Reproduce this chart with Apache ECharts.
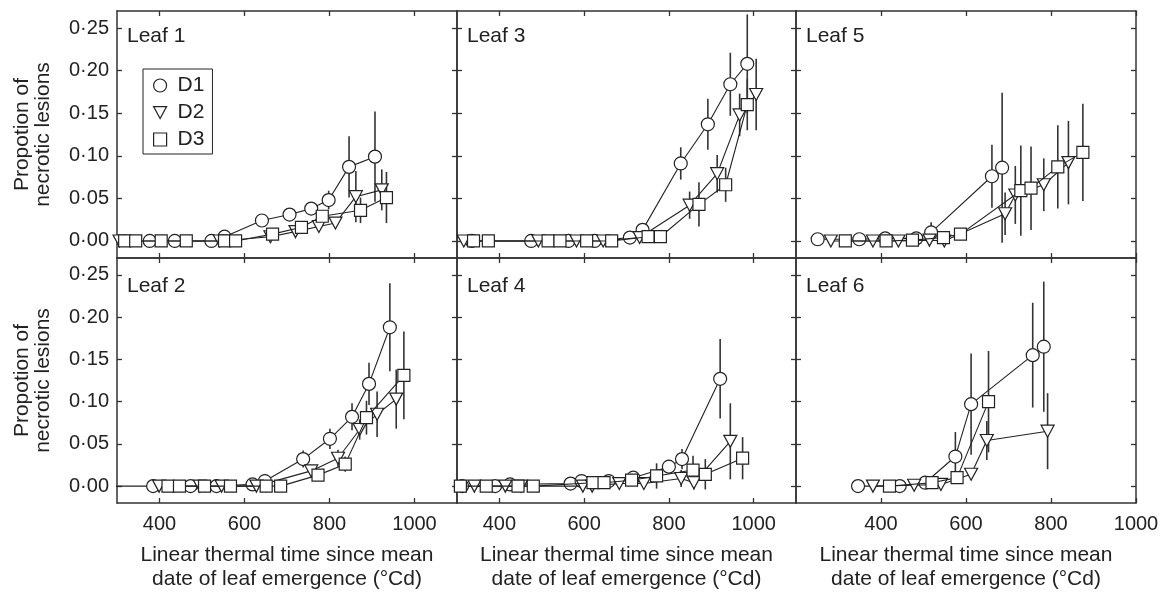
<!DOCTYPE html>
<html>
<head>
<meta charset="utf-8">
<script src="https://cdn.jsdelivr.net/npm/echarts@6/dist/echarts.min.js"></script>
<style>
html,body{margin:0;padding:0;background:#fff;}
#chart{width:1164px;height:592px;}
</style>
</head>
<body>
<div id="chart"></div>
<script>
// ---- Data: [thermal time (°Cd), proportion, error half-length] ----
const leaf1_D1 = [[377,0,0],[436,0,0],[522,0,0],[553,0.005,0.003],[641,0.024,0.004],[706,0.031,0.006],[757,0.038,0.007],[798,0.048,0.011],[846,0.087,0.036],[907,0.099,0.053]];
const leaf1_D2 = [[306,0,0],[542,0,0],[661,0.005,0.003],[720,0.011,0.004],[775,0.017,0.005],[814,0.021,0.006],[862,0.052,0.03],[923,0.060,0.024]];
const leaf1_D3 = [[318,0,0],[344,0,0],[404,0,0],[463,0,0],[553,0,0],[579,0,0],[666,0.008,0.003],[734,0.016,0.005],[783,0.029,0.007],[873,0.036,0.015],[934,0.051,0.03]];

const leaf2_D1 = [[280,0,0],[385,0,0],[473,0,0],[534,0,0],[619,0.002,0],[648,0.006,0],[738,0.032,0.01],[801,0.056,0.012],[853,0.082,0.016],[893,0.121,0.025],[942,0.188,0.052]];
const leaf2_D2 = [[399,0,0],[495,0,0],[546,0,0],[628,0,0],[757,0.018,0.006],[820,0.033,0.01],[871,0.067,0.012],[912,0.085,0.027],[957,0.103,0.035]];
const leaf2_D3 = [[420,0,0],[447,0,0],[506,0,0],[567,0,0],[651,0,0],[685,0,0],[773,0.013,0.005],[837,0.026,0.009],[887,0.081,0.02],[975,0.131,0.052]];

const leaf3_D1 = [[335,0,0],[475,0,0],[563,0,0],[625,0,0],[708,0.004,0],[738,0.013,0.005],[828,0.091,0.019],[892,0.137,0.03],[945,0.184,0.037],[985,0.208,0.058]];
const leaf3_D2 = [[316,0,0],[492,0,0],[582,0,0],[645,0,0],[731,0.004,0],[849,0.042,0.016],[914,0.079,0.022],[967,0.148,0.025],[1006,0.172,0.042]];
const leaf3_D3 = [[339,0,0],[374,0,0],[515,0,0],[543,0,0],[606,0,0],[665,0,0],[751,0.005,0],[780,0.005,0],[871,0.043,0.026],[934,0.066,0.02],[985,0.160,0.03]];

const leaf4_D1 = [[312,0,0],[390,0,0],[425,0.002,0],[568,0.003,0],[594,0.006,0],[658,0.006,0],[716,0.010,0],[800,0.023,0.008],[831,0.032,0.012],[921,0.127,0.047]];
const leaf4_D2 = [[341,0,0],[414,0,0],[451,0,0],[597,0,0],[619,0,0],[683,0.003,0],[741,0.003,0],[829,0.009,0.01],[859,0.004,0.008],[945,0.053,0.045]];
const leaf4_D3 = [[308,0,0],[369,0,0],[444,0,0],[480,0,0],[621,0.004,0],[647,0.004,0],[712,0.007,0],[771,0.012,0.015],[857,0.019,0.017],[886,0.014,0.018],[974,0.033,0.025]];

const leaf5_D1 = [[251,0.002,0],[349,0.002,0],[410,0.003,0],[483,0.003,0],[518,0.010,0.012],[661,0.076,0.037],[685,0.086,0.088]];
const leaf5_D2 = [[282,0,0],[381,0,0],[441,0,0],[514,0.001,0],[549,0,0],[692,0.032,0.025],[716,0.054,0.034],[783,0.066,0.031],[841,0.092,0.049]];
const leaf5_D3 = [[316,0,0],[412,0,0],[474,0.001,0],[547,0.004,0],[587,0.008,0.007],[729,0.059,0.053],[753,0.062,0.049],[816,0.087,0.049],[875,0.104,0.057]];

const leaf6_D1 = [[346,0,0],[444,0,0],[504,0.004,0],[575,0.035,0.029],[612,0.097,0.06],[757,0.155,0.062],[783,0.165,0.077]];
const leaf6_D2 = [[381,0,0],[478,0.001,0],[541,0.002,0],[612,0.014,0.006],[649,0.054,0.023],[792,0.065,0.045]];
const leaf6_D3 = [[420,0,0],[520,0.004,0],[579,0.010,0.005],[653,0.100,0.06]];

const seriesNames = ['D1','D2','D3'];
const panelNames = ['Leaf 1','Leaf 3','Leaf 5','Leaf 2','Leaf 4','Leaf 6'];
const panelData = [
  [leaf1_D1, leaf1_D2, leaf1_D3],
  [leaf3_D1, leaf3_D2, leaf3_D3],
  [leaf5_D1, leaf5_D2, leaf5_D3],
  [leaf2_D1, leaf2_D2, leaf2_D3],
  [leaf4_D1, leaf4_D2, leaf4_D3],
  [leaf6_D1, leaf6_D2, leaf6_D3]
];
const xRanges = [[300,1100],[300,1100],[200,1000]];
const xTicks = [400,600,800,1000];
const yTicks = [0,0.05,0.10,0.15,0.20,0.25];
const yRange = [-0.02,0.27];
const yTitle = 'Propotion of\nnecrotic lesions';
const xTitle = 'Linear thermal time since mean\ndate of leaf emergence (°Cd)';

// ---- Layout / styles ----
const FONT = '"Liberation Sans", Arial, Helvetica, sans-serif';
const INK = '#222';
const AXIS = '#333';
const colLeft = [117, 457, 796];
const colWidth = [340, 339, 340];
const rowTop = [11, 258];
const rowHeight = [247, 245];
const labelTop = [26, 276];
const triPath = 'path://M0,0L12,0L6,11Z';
const symbols = ['circle', triPath, 'rect'];
const symbolSizes = [13, [13,12], 12];

const chart = echarts.init(document.getElementById('chart'), null, {renderer:'canvas'});

const grids = [], xAxes = [], yAxes = [], series = [], titles = [];
const fmtY = v => v.toFixed(2).replace('.', '\u00B7');
const fmtX = v => String(Math.round(v));

for (let p = 0; p < 6; p++) {
  const row = Math.floor(p / 3), col = p % 3;
  grids.push({left: colLeft[col], top: rowTop[row], width: colWidth[col], height: rowHeight[row], containLabel:false});
  const lineCfg = {show:true, onZero:false, lineStyle:{color:AXIS, width:1.5}};
  const xr = xRanges[col];
  // bottom x
  xAxes.push({
    type:'value', gridIndex:p, position:'bottom', min:xr[0], max:xr[1],
    axisLine:lineCfg, splitLine:{show:false},
    axisTick:{show:true, inside:true, length:5, customValues:xTicks, lineStyle:{color:AXIS, width:1.3}},
    axisLabel:{show: row === 1, customValues:xTicks, margin:11, fontSize:20, color:INK, fontFamily:FONT, formatter:fmtX, showMinLabel:true, showMaxLabel:true},
    name: row === 1 ? xTitle : '', nameLocation:'middle', nameGap:40,
    nameTextStyle:{fontSize:21, color:INK, fontFamily:FONT, lineHeight:24}
  });
  // top x
  xAxes.push({
    type:'value', gridIndex:p, position:'top', min:xr[0], max:xr[1],
    axisLine:lineCfg, splitLine:{show:false},
    axisTick:{show:true, inside:true, length:5, customValues:xTicks, lineStyle:{color:AXIS, width:1.3}},
    axisLabel:{show:false}
  });
  // left y
  yAxes.push({
    type:'value', gridIndex:p, position:'left', min:yRange[0], max:yRange[1],
    axisLine:lineCfg, splitLine:{show:false},
    axisTick:{show:true, inside:true, length:5, customValues:yTicks, lineStyle:{color:AXIS, width:1.3}},
    axisLabel:{show: col === 0, customValues:yTicks, margin:8, fontSize:20, color:INK, fontFamily:FONT, formatter:fmtY},
    name: col === 0 ? yTitle : '', nameLocation:'middle', nameGap:63, nameRotate:90,
    nameTextStyle:{fontSize:21, color:INK, fontFamily:FONT, lineHeight:21}
  });
  // right y
  yAxes.push({
    type:'value', gridIndex:p, position:'right', min:yRange[0], max:yRange[1],
    axisLine:lineCfg, splitLine:{show:false},
    axisTick:{show:true, inside:true, length:5, customValues:yTicks, lineStyle:{color:AXIS, width:1.3}},
    axisLabel:{show:false}
  });

  titles.push({
    text: panelNames[p], left: colLeft[col] + 10, top: labelTop[row], padding:0,
    textStyle:{fontSize:21, fontWeight:'normal', color:INK, fontFamily:FONT}
  });

  const xi = p * 2, yi = p * 2;
  panelData[p].forEach((arr, s) => {
    // error bars
    series.push({
      type:'custom', xAxisIndex:xi, yAxisIndex:yi, clip:true, silent:true, z:1,
      data: arr.filter(d => d[2] > 0).map(d => [d[0], d[1] - d[2], d[1] + d[2]]),
      encode:{x:0, y:[1,2]},
      renderItem: (params, api) => {
        const a = api.coord([api.value(0), api.value(1)]);
        const b = api.coord([api.value(0), api.value(2)]);
        return {type:'line', shape:{x1:a[0], y1:a[1], x2:b[0], y2:b[1]}, style:{stroke:AXIS, lineWidth:1.6}};
      }
    });
    // lines + markers
    series.push({
      type:'line', name: seriesNames[s], xAxisIndex:xi, yAxisIndex:yi, clip:true, z:2 + s,
      data: arr.map(d => [d[0], d[1]]),
      symbol: symbols[s], symbolSize: symbolSizes[s], showSymbol:true, showAllSymbol:true,
      lineStyle:{color:INK, width:1.1},
      itemStyle:{color:'#fff', borderColor:INK, borderWidth:1.2},
      emphasis:{disabled:true}
    });
  });
}

const legendItem = {color:'#fff', borderColor:INK, borderWidth:1.2};
chart.setOption({
  animation:false,
  backgroundColor:'#fff',
  title: titles,
  grid: grids,
  xAxis: xAxes,
  yAxis: yAxes,
  legend: {
    left:143, top:69, orient:'vertical', selectedMode:false,
    data:[
      {name:'D1', icon:'circle', itemStyle:legendItem},
      {name:'D2', icon:triPath, itemStyle:legendItem},
      {name:'D3', icon:'rect', itemStyle:legendItem}
    ],
    itemWidth:13, itemHeight:13, itemGap:6,
    padding:[6,8,4,10],
    borderColor:INK, borderWidth:1,
    textStyle:{fontSize:21, color:INK, fontFamily:FONT, padding:[0,0,0,6]}
  },
  series: series
});
</script>
</body>
</html>
